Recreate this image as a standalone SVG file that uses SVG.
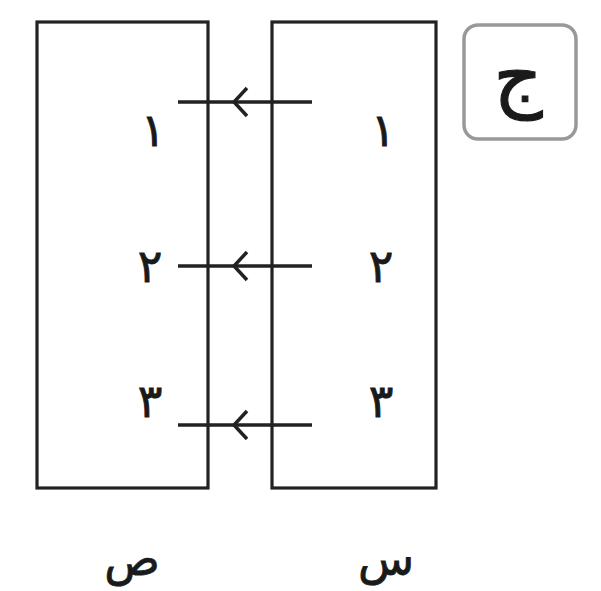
<svg xmlns="http://www.w3.org/2000/svg" width="601" height="591" viewBox="0 0 601 591">
<style>
.box{fill:none;stroke:#222;stroke-width:3.2}
.ln{fill:none;stroke:#222;stroke-width:3.5;stroke-linecap:butt}
.ah{fill:none;stroke:#222;stroke-width:3.5;stroke-linejoin:miter}
.t{font-family:"DejaVu Sans",sans-serif;font-size:46px;fill:#1a1a1a;text-anchor:middle;stroke:#1a1a1a;stroke-width:0.8}
.lbl{font-family:"DejaVu Sans",sans-serif;font-size:46px;fill:#1a1a1a;text-anchor:middle;stroke:#1a1a1a;stroke-width:0.8}
</style>
<rect width="601" height="591" fill="#fff"/>
<g id="setY">
<rect class="box" x="37" y="22" width="171" height="466"/>
<text class="t" x="153" y="146">١</text>
<text class="t" x="150" y="282">٢</text>
<text class="t" x="150" y="417">٣</text>
</g>
<g id="setX">
<rect class="box" x="272" y="22" width="164" height="466"/>
<text class="t" x="383" y="146">١</text>
<text class="t" x="381" y="282">٢</text>
<text class="t" x="381" y="417">٣</text>
</g>
<g id="connectors">
<line class="ln" x1="178" y1="102" x2="312" y2="102"/>
<polyline class="ah" points="247,88 234,102 247,116"/>
<line class="ln" x1="178" y1="266" x2="312" y2="266"/>
<polyline class="ah" points="247,252 234,266 247,280"/>
<line class="ln" x1="178" y1="425" x2="312" y2="425"/>
<polyline class="ah" points="247,411 234,425 247,439"/>
</g>
<g id="labelY"><text class="lbl" x="132" y="575">ص</text></g>
<g id="labelX"><text class="lbl" x="386" y="575">س</text></g>
<g id="tag">
<rect x="464" y="25" width="112" height="114" rx="14" fill="#fff" stroke="#999" stroke-width="3.5"/>
<text class="lbl" x="518" y="102" style="font-size:76px;stroke-width:1.2">ج</text>
</g>
</svg>
